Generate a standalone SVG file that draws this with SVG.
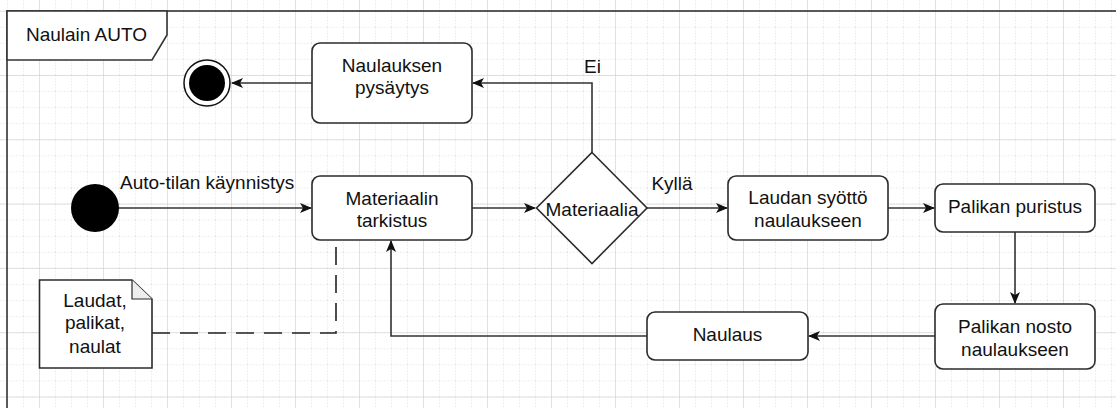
<svg xmlns="http://www.w3.org/2000/svg" width="1116" height="408" viewBox="0 0 1116 408">
  <style>
    text { font-family: "Liberation Sans", Arial, sans-serif; font-size: 19px; fill: #111; }
    .c { text-anchor: middle; }
    .box { fill: #fff; stroke: #2b2b2b; stroke-width: 1.6; }
    .edge { fill: none; stroke: #333; stroke-width: 1.6; }
    .dash { fill: none; stroke: #222; stroke-width: 1.6; stroke-dasharray: 18 10; }
    .frame { fill: none; stroke: #333; stroke-width: 1.6; }
  </style>
  <defs>
    <pattern id="minor" x="39" y="10.7" width="16" height="16.075" patternUnits="userSpaceOnUse">
      <path d="M0,0 V16.075 M0,0 H16" fill="none" stroke="#d6d6d6" stroke-width="1" stroke-dasharray="1.5 1.5"/>
    </pattern>
    <pattern id="major" x="39" y="10.7" width="64" height="64.3" patternUnits="userSpaceOnUse">
      <path d="M0,0 V64.3 M0,0 H64" fill="none" stroke="#d8d8d8" stroke-width="1.4"/>
    </pattern>
    <marker id="arrow" viewBox="0 0 12 10" refX="11" refY="5" markerWidth="12" markerHeight="10" markerUnits="userSpaceOnUse" orient="auto">
      <path d="M0,0 L12,5 L0,10 L3,5 z" fill="#111"/>
    </marker>
  </defs>

  <!-- background grid -->
  <rect width="1116" height="408" fill="#fff"/>
  <rect width="1116" height="408" fill="url(#minor)"/>
  <rect width="1116" height="408" fill="url(#major)"/>

  <!-- frame with title tab -->
  <g id="frame">
    <rect class="frame" x="7" y="11" width="1200" height="500"/>
    <path d="M7,11 H167 V35 L152,60 H7 Z" fill="#fff" stroke="#333" stroke-width="1.6"/>
    <text class="c" x="86.5" y="40.5">Naulain AUTO</text>
  </g>

  <!-- connectors -->
  <g id="connectors">
    <path class="edge" d="M119,208 H311" marker-end="url(#arrow)"/>
    <text x="120" y="189">Auto-tilan käynnistys</text>
    <path class="edge" d="M472,208 H535" marker-end="url(#arrow)"/>
    <path class="edge" d="M592,152 V83 H473" marker-end="url(#arrow)"/>
    <text class="c" x="592.5" y="73">Ei</text>
    <path class="edge" d="M312,83 H232" marker-end="url(#arrow)"/>
    <path class="edge" d="M647,208 H727" marker-end="url(#arrow)"/>
    <text class="c" x="672" y="190">Kyllä</text>
    <path class="edge" d="M888,208 H934" marker-end="url(#arrow)"/>
    <path class="edge" d="M1015,232 V303" marker-end="url(#arrow)"/>
    <path class="edge" d="M935,336 H809" marker-end="url(#arrow)"/>
    <path class="edge" d="M647,336 H391 V241" marker-end="url(#arrow)"/>
    <path class="dash" d="M152,333 H336 V240"/>
  </g>

  <!-- start node -->
  <g id="start">
    <circle cx="95" cy="208" r="24" fill="#000"/>
  </g>

  <!-- final node -->
  <g id="end">
    <circle cx="207" cy="83" r="23" fill="#fff" stroke="#111" stroke-width="1.5"/>
    <circle cx="207" cy="83" r="18" fill="#000"/>
  </g>

  <g id="naulauksen-pysaytys">
    <rect class="box" x="312" y="43" width="160" height="80" rx="8"/>
    <text class="c" x="392" y="72">Naulauksen</text>
    <text class="c" x="392" y="94">pysäytys</text>
  </g>

  <g id="materiaalin-tarkistus">
    <rect class="box" x="312" y="176" width="160" height="64" rx="8"/>
    <text class="c" x="392" y="205">Materiaalin</text>
    <text class="c" x="392" y="227">tarkistus</text>
  </g>

  <g id="materiaalia">
    <path class="box" d="M592,152.5 L647,208 L592,263.5 L536.5,208 Z"/>
    <text class="c" x="592" y="215.5">Materiaalia</text>
  </g>

  <g id="laudan-syotto">
    <rect class="box" x="728" y="176" width="160" height="64" rx="8"/>
    <text class="c" x="808" y="204">Laudan syöttö</text>
    <text class="c" x="808" y="227">naulaukseen</text>
  </g>

  <g id="palikan-puristus">
    <rect class="box" x="935" y="184" width="160" height="48" rx="8"/>
    <text class="c" x="1015" y="212.5">Palikan puristus</text>
  </g>

  <g id="palikan-nosto">
    <rect class="box" x="935" y="304" width="160" height="65" rx="8"/>
    <text class="c" x="1015" y="333">Palikan nosto</text>
    <text class="c" x="1015" y="356">naulaukseen</text>
  </g>

  <g id="naulaus">
    <rect class="box" x="647" y="312" width="161" height="48" rx="8"/>
    <text class="c" x="727.5" y="341">Naulaus</text>
  </g>

  <g id="note">
    <path class="box" d="M39.5,280 H132 L152,299 V368 H39.5 Z"/>
    <path d="M132,280 V299 H152" fill="#eee" stroke="#2b2b2b" stroke-width="1.2"/>
    <text class="c" x="95" y="306.5">Laudat,</text>
    <text class="c" x="95" y="329">palikat,</text>
    <text class="c" x="95" y="352.5">naulat</text>
  </g>
</svg>
